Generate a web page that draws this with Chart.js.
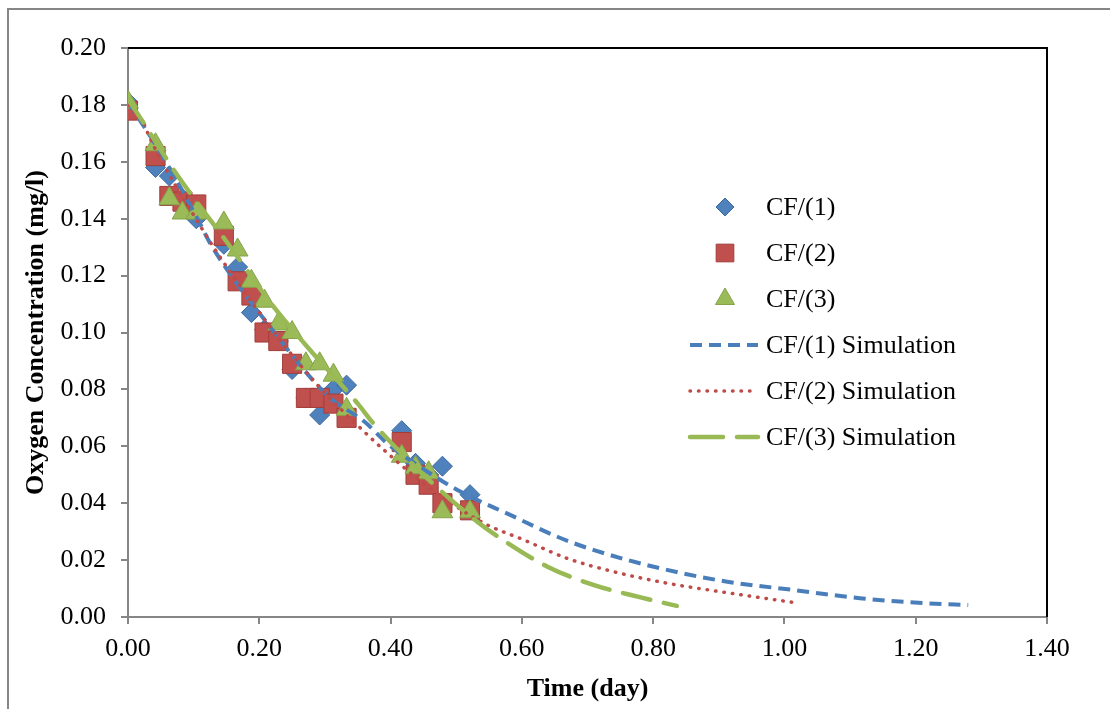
<!DOCTYPE html>
<html>
<head>
<meta charset="utf-8">
<title>Oxygen Concentration</title>
<script src="https://cdn.jsdelivr.net/npm/chart.js@4.4.1/dist/chart.umd.min.js"></script>
<style>
  html, body { margin: 0; padding: 0; background: #fff; }
  #wrap { width: 1110px; height: 709px; }
</style>
</head>
<body>
<div id="wrap"><canvas id="chart" width="1110" height="709"></canvas></div>
<script>
// measured time points (day)
const times = [0, 0.042, 0.063, 0.083, 0.104, 0.146, 0.167, 0.188, 0.208, 0.229,
               0.250, 0.271, 0.292, 0.313, 0.333, 0.417, 0.438, 0.458, 0.479, 0.521];

// measured oxygen (mg/l)
const cf1 = [0.181, 0.158, 0.155, 0.147, 0.140, 0.131, 0.123, 0.107, 0.101, 0.097,
             0.087, 0.077, 0.071, 0.080, 0.0815, 0.0655, 0.054, 0.050, 0.053, 0.043];
const cf2 = [0.178, 0.162, 0.148, 0.146, 0.145, 0.134, 0.118, 0.113, 0.100, 0.097,
             0.089, 0.077, 0.077, 0.075, 0.070, 0.0615, 0.050, 0.0465, 0.040, 0.0375];
const cf3 = [0.181, 0.166, 0.147, 0.142, 0.142, 0.1385, 0.129, 0.118, 0.111, 0.103,
             0.100, 0.089, 0.089, 0.085, 0.073, 0.0565, 0.0525, 0.0507, 0.037, 0.037];

// simulation curves
const sim1Time = [0, 0.05, 0.107, 0.126, 0.213, 0.306, 0.36, 0.395, 0.45, 0.507,
                  0.583, 0.654, 0.71, 0.811, 0.913, 1.014, 1.115, 1.217, 1.28];
const sim1 = [0.181, 0.163, 0.1395, 0.131, 0.103, 0.0774, 0.0687, 0.061, 0.052, 0.044,
              0.0358, 0.0282, 0.0235, 0.0171, 0.0124, 0.0095, 0.0066, 0.0048, 0.0042];

const sim2Time = [0, 0.025, 0.032, 0.114, 0.136, 0.2, 0.283, 0.36, 0.39, 0.45,
                  0.542, 0.603, 0.669, 0.735, 0.816, 0.902, 1.0115];
const sim2 = [0.180, 0.173, 0.169, 0.136, 0.128, 0.107, 0.083, 0.0651, 0.0587, 0.047,
              0.033, 0.0271, 0.0206, 0.0162, 0.0121, 0.0089, 0.0052];

const sim3Time = [0, 0.02, 0.076, 0.15, 0.222, 0.273, 0.35, 0.374, 0.45, 0.532,
                  0.573, 0.639, 0.71, 0.781, 0.836];
const sim3 = [0.182, 0.175, 0.155, 0.132, 0.109, 0.095, 0.075, 0.068, 0.050, 0.0335,
              0.0268, 0.0177, 0.0112, 0.0069, 0.0039];

const pairs = (xs, ys) => xs.map((x, i) => ({ x: x, y: ys[i] }));

const FONT = "'Liberation Serif', 'Times New Roman', serif";
const AXIS_GREY = '#868686';

// outer frame + black top/right edges of the plot area
const framePlugin = {
  id: 'frame',
  beforeDraw(chart) {
    const ctx = chart.ctx;
    ctx.save();
    ctx.fillStyle = '#fff';
    ctx.fillRect(0, 0, chart.width, chart.height);
    ctx.strokeStyle = AXIS_GREY;
    ctx.lineWidth = 2;
    ctx.beginPath();
    ctx.moveTo(8, chart.height);
    ctx.lineTo(8, 9);
    ctx.lineTo(chart.width, 9);
    ctx.stroke();
    ctx.restore();
  },
  afterDraw(chart) {
    const a = chart.chartArea;
    const ctx = chart.ctx;
    ctx.save();
    ctx.strokeStyle = '#000';
    ctx.lineWidth = 2;
    ctx.beginPath();
    ctx.moveTo(a.left, a.top);
    ctx.lineTo(a.right, a.top);
    ctx.lineTo(a.right, a.bottom);
    ctx.stroke();
    ctx.restore();
  }
};

// legend drawn inside the plot, like the original
const legendPlugin = {
  id: 'innerLegend',
  afterDraw(chart) {
    const ctx = chart.ctx;
    const rows = [207, 253, 299, 345, 391, 437];
    const textX = 766;
    ctx.save();
    ctx.font = '26px ' + FONT;
    ctx.textBaseline = 'middle';
    ctx.fillStyle = '#000';
    chart.data.datasets.forEach((ds, r) => {
      const y = rows[r];
      if (ds.showLine) {
        ctx.save();
        ctx.strokeStyle = ds.borderColor;
        ctx.lineWidth = ds.borderWidth;
        ctx.lineCap = ds.borderCapStyle || 'butt';
        ctx.setLineDash(ds.legendDash || ds.borderDash || []);
        ctx.beginPath();
        ctx.moveTo(690, y);
        ctx.lineTo(758, y);
        ctx.stroke();
        ctx.restore();
      } else {
        ctx.save();
        ctx.fillStyle = ds.backgroundColor;
        ctx.strokeStyle = ds.borderColor;
        ctx.lineWidth = 1;
        Chart.helpers.drawPoint(ctx, {
          pointStyle: ds.pointStyle,
          radius: ds.legendRadius,
          rotation: 0,
          borderWidth: 1
        }, 725, y);
        ctx.restore();
      }
      ctx.fillText(ds.label, textX, y + 1);
    });
    ctx.restore();
  }
};

new Chart(document.getElementById('chart'), {
  type: 'scatter',
  data: {
    datasets: [
      {
        label: 'CF/(1)', data: pairs(times, cf1), order: 6,
        pointStyle: 'rectRot', pointRadius: 10, legendRadius: 9,
        backgroundColor: '#4F81BD', borderColor: '#3C6A9F', borderWidth: 1, showLine: false
      },
      {
        label: 'CF/(2)', data: pairs(times, cf2), order: 5,
        pointStyle: 'rect', pointRadius: 13.5, legendRadius: 12.5,
        backgroundColor: '#C0504D', borderColor: '#A03E3B', borderWidth: 1, showLine: false
      },
      {
        label: 'CF/(3)', data: pairs(times, cf3), order: 4,
        pointStyle: 'triangle', pointRadius: 12, legendRadius: 11,
        backgroundColor: '#9BBB59', borderColor: '#86A34A', borderWidth: 1, showLine: false
      },
      {
        label: 'CF/(1) Simulation', data: pairs(sim1Time, sim1), order: 3,
        showLine: true, pointRadius: 0, borderColor: '#4A7EBB', borderWidth: 4,
        borderDash: [12, 7], cubicInterpolationMode: 'monotone', fill: false
      },
      {
        label: 'CF/(2) Simulation', data: pairs(sim2Time, sim2), order: 2,
        showLine: true, pointRadius: 0, borderColor: '#BE4B48', borderWidth: 3.5,
        borderDash: [0.5, 8], borderCapStyle: 'round', cubicInterpolationMode: 'monotone', fill: false
      },
      {
        label: 'CF/(3) Simulation', data: pairs(sim3Time, sim3), order: 1,
        showLine: true, pointRadius: 0, borderColor: '#98B954', borderWidth: 4.5,
        borderDash: [28, 14], legendDash: [33, 14], borderCapStyle: 'round',
        cubicInterpolationMode: 'monotone', fill: false
      }
    ]
  },
  options: {
    responsive: false,
    animation: false,
    layout: { padding: { left: 17, top: 48, right: 63, bottom: 0 } },
    plugins: {
      legend: { display: false },
      tooltip: { enabled: false }
    },
    scales: {
      x: {
        type: 'linear', min: 0, max: 1.4,
        afterFit: (s) => { s.height = 92; },
        ticks: {
          stepSize: 0.2, color: '#000', padding: 10,
          font: { family: FONT, size: 26 },
          callback: (v) => v.toFixed(2)
        },
        grid: { drawOnChartArea: false, color: AXIS_GREY, lineWidth: 2, tickLength: 7 },
        border: { color: AXIS_GREY, width: 2 },
        title: {
          display: true, text: 'Time (day)', color: '#000',
          font: { family: FONT, size: 26, weight: 'bold' },
          padding: { top: 4, bottom: 4 }
        }
      },
      y: {
        type: 'linear', min: 0, max: 0.2,
        afterFit: (s) => { s.width = 111; },
        ticks: {
          stepSize: 0.02, color: '#000', padding: 15,
          font: { family: FONT, size: 26 },
          callback: (v) => v.toFixed(2)
        },
        grid: { drawOnChartArea: false, color: AXIS_GREY, lineWidth: 2, tickLength: 7 },
        border: { color: AXIS_GREY, width: 2 },
        title: {
          display: true, text: 'Oxygen Concentration (mg/l)', color: '#000',
          font: { family: FONT, size: 26, weight: 'bold' },
          padding: { top: 4, bottom: 4 }
        }
      }
    }
  },
  plugins: [framePlugin, legendPlugin]
});
</script>
</body>
</html>
